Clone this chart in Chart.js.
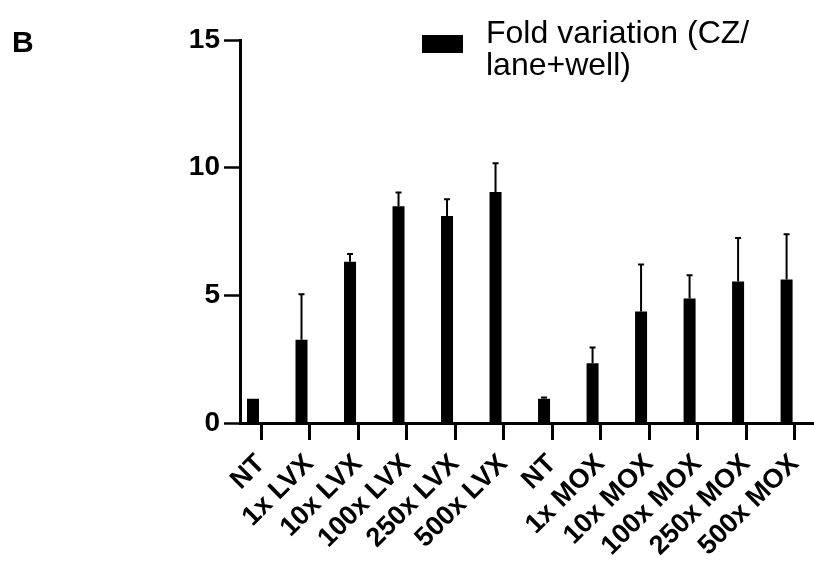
<!DOCTYPE html>
<html>
<head>
<meta charset="utf-8">
<script src="https://cdn.jsdelivr.net/npm/chart.js@4/dist/chart.umd.min.js"></script>
<style>
  html, body { margin: 0; padding: 0; background: #fff; overflow: hidden; }
  #wrap { position: relative; width: 814px; height: 562px; }
  canvas { display: block; }
</style>
</head>
<body>
<div id="wrap"><canvas id="c" width="814" height="562"></canvas></div>
<script>
// ---- data ----
const categories = ["NT", "1x LVX", "10x LVX", "100x LVX", "250x LVX", "500x LVX",
                    "NT", "1x MOX", "10x MOX", "100x MOX", "250x MOX", "500x MOX"];
const foldMean = [0.95, 3.26, 6.32, 8.49, 8.11, 9.05,
                  0.95, 2.34, 4.37, 4.88, 5.54, 5.62];
const foldSD   = [0.00, 1.78, 0.30, 0.54, 0.65, 1.12,
                  0.05, 0.62, 1.84, 0.91, 1.71, 1.77];
const yTicks = [0, 5, 10, 15];
const seriesLabel = "Fold variation (CZ/lane+well)";
const legendLines = ["Fold variation (CZ/", "lane+well)"];
const panelLabel = "B";

const FONT = "'Liberation Sans', Arial, Helvetica, sans-serif";

// error bars (upward SD) drawn from the arrays via the scales
const errorBarPlugin = {
  id: 'errorBars',
  afterDatasetsDraw(chart) {
    const meta = chart.getDatasetMeta(0);
    const ys = chart.scales.y;
    const ctx = chart.ctx;
    ctx.save();
    ctx.strokeStyle = '#000';
    ctx.lineWidth = 2;
    meta.data.forEach((bar, i) => {
      const sd = foldSD[i];
      if (!sd) return;
      const x = bar.x;
      const y0 = ys.getPixelForValue(foldMean[i]);
      const y1 = ys.getPixelForValue(foldMean[i] + sd);
      ctx.beginPath();
      ctx.moveTo(x, y0);
      ctx.lineTo(x, y1);
      ctx.moveTo(x - 3, y1);
      ctx.lineTo(x + 3, y1);
      ctx.stroke();
    });
    ctx.restore();
  }
};

// panel letter + two-line legend
const decorPlugin = {
  id: 'decor',
  afterDraw(chart) {
    const ctx = chart.ctx;
    ctx.save();
    ctx.fillStyle = '#000';
    ctx.textBaseline = 'alphabetic';
    ctx.textAlign = 'left';
    ctx.font = "bold 30px " + FONT;
    ctx.fillText(panelLabel, 12, 52);
    // legend swatch
    ctx.fillRect(422, 35, 41, 18);
    ctx.font = "32px " + FONT;
    legendLines.forEach((t, i) => ctx.fillText(t, 486, 43 + i * 32));
    ctx.restore();
  }
};

new Chart(document.getElementById('c'), {
  type: 'bar',
  data: {
    datasets: [
      {
        label: seriesLabel,
        data: foldMean.map((v, i) => ({ x: i, y: v })),
        backgroundColor: '#000',
        borderWidth: 0,
        categoryPercentage: 0.66,
        barPercentage: 0.75
      },
      {
        label: '',
        data: foldMean.map((v, i) => ({ x: i, y: null })),
        backgroundColor: '#000',
        borderWidth: 0,
        categoryPercentage: 0.66,
        barPercentage: 0.75
      }
    ]
  },
  options: {
    responsive: false,
    animation: false,
    devicePixelRatio: 1,
    layout: { padding: { top: 40, left: 0, right: 0, bottom: 0 } },
    plugins: { legend: { display: false }, tooltip: { enabled: false } },
    scales: {
      x: {
        type: 'linear',
        offset: false,
        min: -0.433,
        max: 11.4,
        afterFit(scale) {
          scale.height = 139;
          scale.paddingLeft = 0;
          scale.paddingRight = 0;
        },
        afterBuildTicks(scale) {
          scale.ticks = categories.map((c, i) => ({ value: i }));
        },
        ticks: {
          autoSkip: false,
          includeBounds: false,
          minRotation: 45,
          maxRotation: 45,
          padding: 8,
          color: '#000',
          font: { family: FONT, size: 27, weight: 'bold' },
          callback: (v) => categories[v]
        },
        grid: {
          offset: false,
          drawOnChartArea: false,
          drawTicks: true,
          tickLength: 17,
          tickWidth: 3,
          tickColor: '#000'
        },
        border: { display: true, color: '#000', width: 3 }
      },
      y: {
        type: 'linear',
        min: 0,
        max: 15,
        afterFit(scale) { scale.width = 240; },
        afterBuildTicks(scale) {
          scale.ticks = yTicks.map(v => ({ value: v }));
        },
        ticks: {
          padding: 4,
          color: '#000',
          font: { family: FONT, size: 28, weight: 'bold' }
        },
        grid: {
          drawOnChartArea: false,
          drawTicks: true,
          tickLength: 16,
          tickWidth: 2.5,
          tickColor: '#000'
        },
        border: { display: true, color: '#000', width: 3 }
      }
    }
  },
  plugins: [errorBarPlugin, decorPlugin]
});
</script>
</body>
</html>
